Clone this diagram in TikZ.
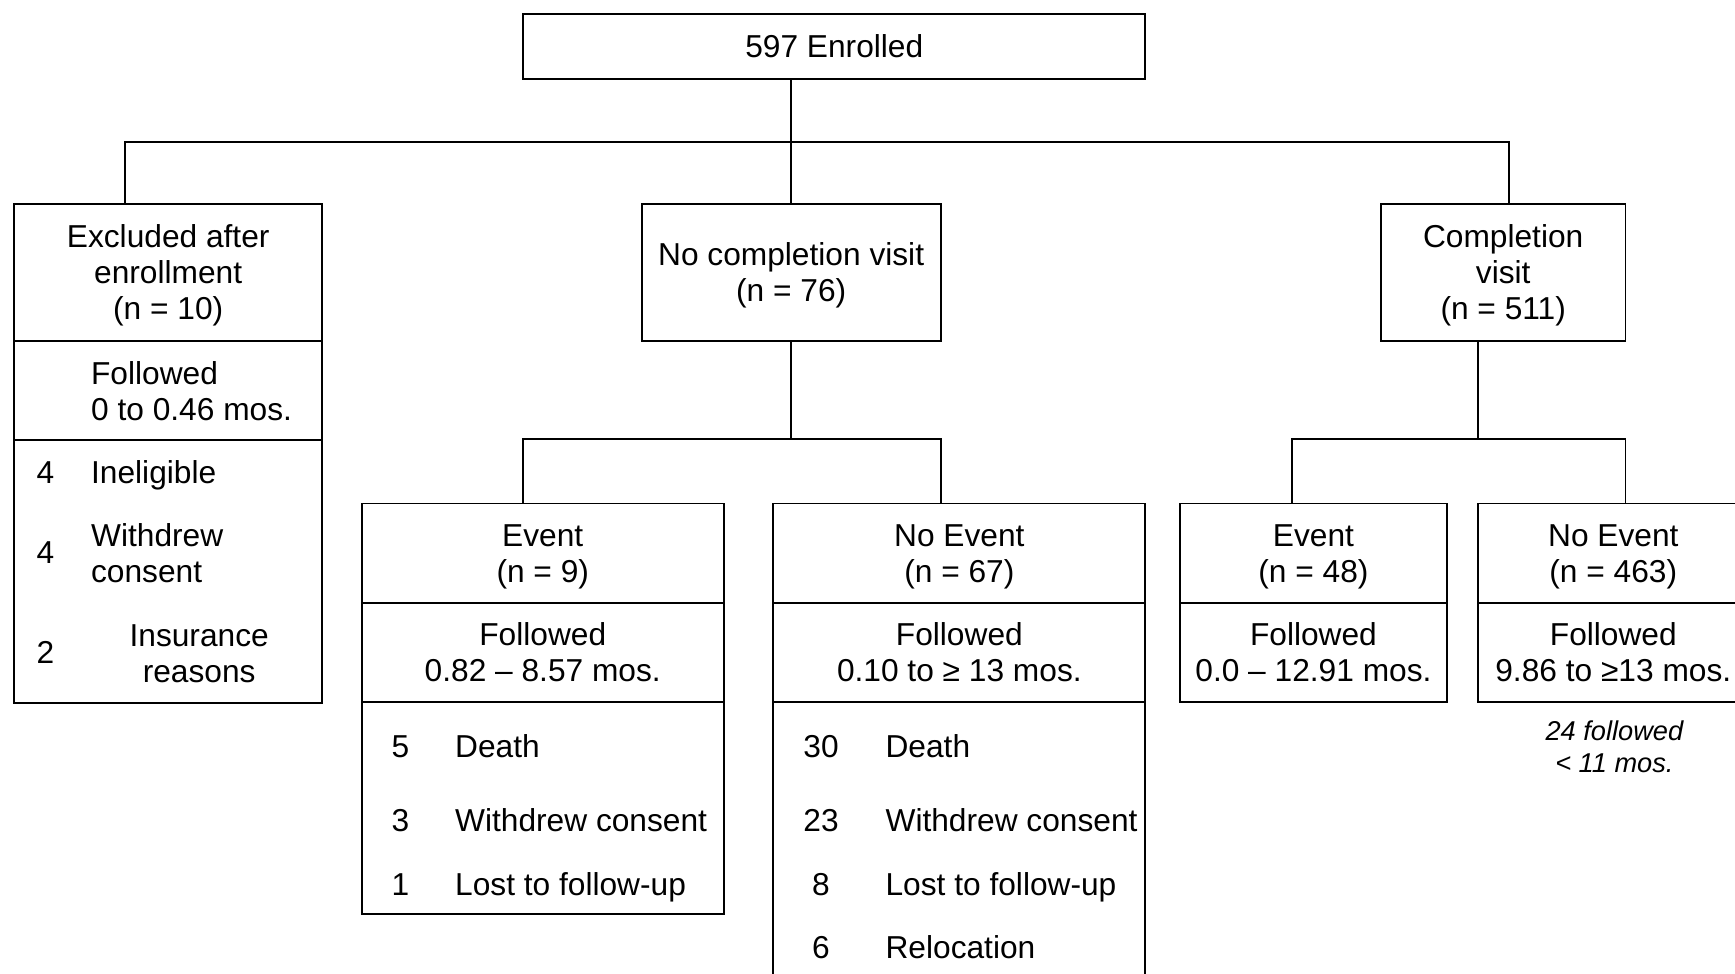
\documentclass[tikz,border=0pt]{standalone}
\usepackage{fontspec}
\setmainfont{Liberation Sans}
\usetikzlibrary{positioning}

\begin{document}
\begin{tikzpicture}[
  every node/.style={font=\fontsize{16.3}{18.5}\selectfont},
  box/.style={draw, line width=1pt, outer sep=0pt, inner sep=0pt, align=center, text depth=0pt},
  txt/.style={inner sep=0pt},
  note/.style={inner sep=0pt, align=center, font=\fontsize{14}{16.4}\selectfont\itshape}
]
  % Frame
  \useasboundingbox (0,0) rectangle (31.36,-17.6);
  \clip (0,0) rectangle (31.36,-17.6);

  % Top
  \node[box, minimum width=11.24cm, minimum height=1.16cm] (enr) at (15.08,-0.84) {597 Enrolled};

  % --- FIRST LEVEL ---
  \node[box, minimum width=5.56cm, minimum height=2.48cm] (excl) at (3.04,-4.92) {Excluded after\\enrollment\\(n = 10)};
  \node[box, minimum width=5.40cm, minimum height=2.48cm] (noc) at (14.30,-4.92) {No completion visit\\(n = 76)};
  \node[box, minimum width=4.42cm, minimum height=2.48cm] (comp) at (27.17,-4.92) {Completion\\visit\\(n = 511)};

  % Excluded: followed + reasons
  \node[box, minimum width=5.56cm, minimum height=1.80cm, below=0pt of excl] (exclfol) {};
  \node[box, minimum width=5.56cm, minimum height=4.74cm, below=0pt of exclfol] (excllist) {};
  \node[txt, align=left, anchor=west] (exclfoltxt) at (1.64,-7.07) {Followed\\0 to 0.46 mos.};
  \node[txt, anchor=base] (exn1) at (0.82,-8.74) {4};
  \node[txt, anchor=base west] (exl1) at (1.64,-8.74) {Ineligible};
  \node[txt, anchor=base] (exn2) at (0.82,-10.18) {4};
  \node[txt, align=left, anchor=west] (exl2) at (1.64,-10.0) {Withdrew\\consent};
  \node[txt, anchor=base] (exn3) at (0.82,-12.00) {2};
  \node[txt, align=center] (exl3) at (3.60,-11.81) {Insurance\\reasons};

  % --- SECOND LEVEL: no completion visit ---
  \node[box, minimum width=6.54cm, minimum height=1.80cm] (ev) at (9.81,-10.00) {Event\\(n = 9)};
  \node[box, minimum width=6.54cm, minimum height=1.78cm, below=0pt of ev] (evfol) {Followed\\0.82 -- 8.57 mos.};
  \node[box, minimum width=6.54cm, minimum height=3.84cm, below=0pt of evfol] (evlist) {};
  \node[txt, anchor=base] (evn1) at (7.24,-13.70) {5};
  \node[txt, anchor=base west] (evl1) at (8.22,-13.70) {Death};
  \node[txt, anchor=base] (evn2) at (7.24,-15.02) {3};
  \node[txt, anchor=base west] (evl2) at (8.22,-15.02) {Withdrew consent};
  \node[txt, anchor=base] (evn3) at (7.24,-16.18) {1};
  \node[txt, anchor=base west] (evl3) at (8.22,-16.18) {Lost to follow-up};

  \node[box, minimum width=6.72cm, minimum height=1.80cm] (nev) at (17.34,-10.00) {No Event\\(n = 67)};
  \node[box, minimum width=6.72cm, minimum height=1.78cm, below=0pt of nev] (nevfol) {Followed\\0.10 to ≥ 13 mos.};
  \node[box, minimum width=6.72cm, minimum height=5.60cm, below=0pt of nevfol] (nevlist) {};
  \node[txt, anchor=base] (nevn1) at (14.84,-13.70) {30};
  \node[txt, anchor=base west] (nevl1) at (16.00,-13.70) {Death};
  \node[txt, anchor=base] (nevn2) at (14.84,-15.02) {23};
  \node[txt, anchor=base west] (nevl2) at (16.00,-15.02) {Withdrew consent};
  \node[txt, anchor=base] (nevn3) at (14.84,-16.18) {8};
  \node[txt, anchor=base west] (nevl3) at (16.00,-16.18) {Lost to follow-up};
  \node[txt, anchor=base] (nevn4) at (14.84,-17.32) {6};
  \node[txt, anchor=base west] (nevl4) at (16.00,-17.32) {Relocation};

  % --- SECOND LEVEL: completion visit ---
  \node[box, minimum width=4.84cm, minimum height=1.80cm] (cev) at (23.74,-10.00) {Event\\(n = 48)};
  \node[box, minimum width=4.84cm, minimum height=1.78cm, below=0pt of cev] (cevfol) {Followed\\0.0 -- 12.91 mos.};
  \node[box, minimum width=4.88cm, minimum height=1.80cm] (cnev) at (29.16,-10.00) {No Event\\(n = 463)};
  \node[box, minimum width=4.88cm, minimum height=1.78cm, below=0pt of cnev] (cnevfol) {Followed\\9.86 to ≥13 mos.};
  \node[note] (cnevnote) at (29.18,-13.49) {24 followed\\< 11 mos.};

  % Connectors
  \coordinate (bus) at (0,-2.56);
  \coordinate (bus2) at (0,-7.94);
  \coordinate (exx) at (2.26,0);
  \coordinate (cpx) at (27.28,0);
  \coordinate (cpb) at (26.72,0);
  \coordinate (evx) at (9.46,0);
  \coordinate (nevx) at (17.00,0);
  \coordinate (cevx) at (23.36,0);
  \coordinate (cnevx) at (29.38,0);

  \draw[line width=1pt] (enr.south -| noc.north) -- (noc.north);
  \draw[line width=1pt] (excl.north -| exx) |- (bus -| cpx) -- (comp.north -| cpx);

  \draw[line width=1pt] (noc.south) -- (noc.south |- bus2);
  \draw[line width=1pt] (ev.north -| evx) |- (noc.south |- bus2) -| (nev.north -| nevx);

  \draw[line width=1pt] (comp.south -| cpb) -- (cpb |- bus2);
  \draw[line width=1pt] (cev.north -| cevx) |- (cpb |- bus2) -| (cnev.north -| cnevx);
\end{tikzpicture}
\end{document}
